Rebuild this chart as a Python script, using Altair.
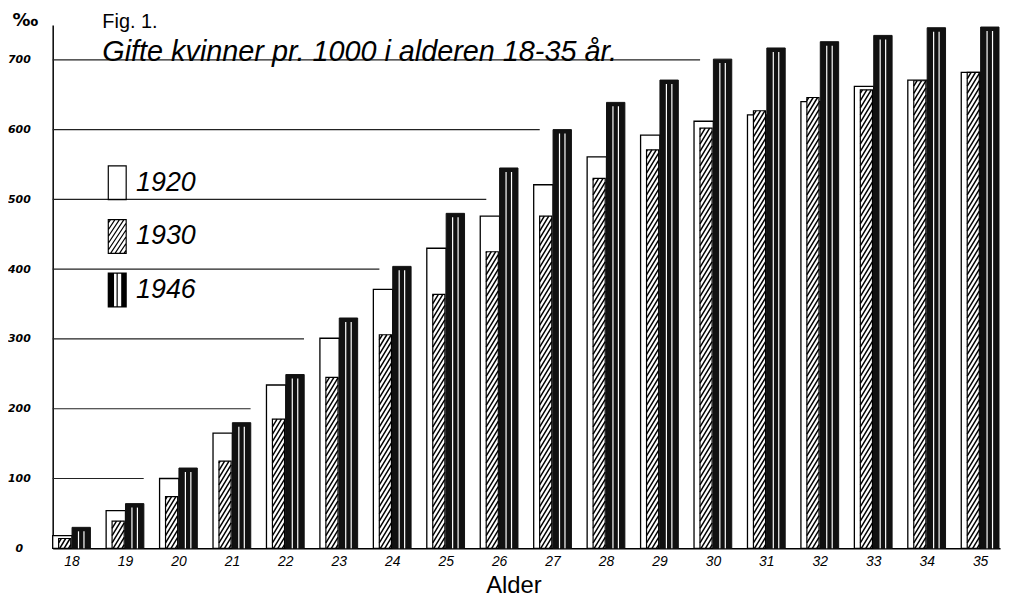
import altair as alt
import pandas as pd
import numpy as np

# ---------------- data ----------------
ages = list(range(18, 36))
years = ["1920", "1930", "1946"]
v1920 = [18, 54, 100, 165, 234, 301, 371, 430, 476, 521, 561, 592, 612, 621, 640, 662, 671, 682]
v1930 = [14, 39, 74, 125, 185, 245, 306, 364, 425, 476, 530, 571, 602, 627, 646, 657, 670, 682]
v1946 = [30, 64, 115, 180, 249, 330, 404, 480, 545, 600, 639, 671, 701, 717, 726, 735, 746, 747]
y_ticks = [0, 100, 200, 300, 400, 500, 600, 700]
fig_text = "Fig. 1."
title_text = "Gifte kvinner pr. 1000 i alderen 18-35 år."
x_title = "Alder"
y_title = "\u2030"

# ---------------- layout / style constants ----------------
HAND = "Liberation Sans, DejaVu Sans, sans-serif"
W, H = 954, 527
X0, X1 = 17.647, 35.373
K = W / (X1 - X0)           # px per age unit
Y_MAX = 750
PX = H / Y_MAX              # px per per-mille
OFF = {"1920": (-19, 0.5), "1930": (-13, -0.8), "1946": (0.5, 19)}

series = {"1920": v1920, "1930": v1930, "1946": v1946}
rows = []
for yr in years:
    for a, v in zip(ages, series[yr]):
        rows.append(dict(age=a, year=yr, v=v, zero=0,
                         x0=a + OFF[yr][0] / K, x1=a + OFF[yr][1] / K))
bars = pd.DataFrame(rows)

# hatch lines for the 1930 bars
RISE = 20 / PX
STEP = 7.3 / PX
hrows = []
for a, v in zip(ages, v1930):
    xa, xb = a + OFF["1930"][0] / K, a + OFF["1930"][1] / K
    c = -RISE + STEP / 2
    while c < v:
        t0 = max(0.0, -c / RISE)
        t1 = min(1.0, (v - c) / RISE)
        if t1 > t0:
            hrows.append(dict(x=xa + t0 * (xb - xa), x2=xa + t1 * (xb - xa),
                              y=c + RISE * t0, y2=c + RISE * t1))
        c += STEP
hatch = pd.DataFrame(hrows)

# white streaks in the 1946 bars
srows = []
for a, v in zip(ages, v1946):
    for px in (6.5, 12.0):
        srows.append(dict(x=a + (OFF["1946"][0] + px) / K, y=0, y2=v - 4 / PX))
streaks = pd.DataFrame(srows)

# hand-drawn guide lines: each stops before the first age group reaching it
mx = [max(p) for p in zip(v1920, v1930, v1946)]
grows = []
for g in y_ticks[1:]:
    first = next(a for a, m in zip(ages, mx) if m >= g)
    end = first - (0.65 if g <= 300 else 0.24)
    grows.append(dict(y=g, x=X0, x2=end))
grid = pd.DataFrame(grows)

# legend symbol paths (unit square coordinates)
SW = 0.53
rect = f"M{-SW},-1L{SW},-1L{SW},1L{-SW},1Z"
lr, ls = 1.6, 0.4
hp = rect
c = -1 + ls / 2
while c < 1 + lr:
    t0 = max(0.0, (c - 1) / lr)
    t1 = min(1.0, (c + 1) / lr)
    if t1 > t0:
        xa = -SW + 2 * SW * t0
        xb = -SW + 2 * SW * t1
        hp += f"M{xa:.3f},{c - lr * t0:.3f}L{xb:.3f},{c - lr * t1:.3f}"
    c += ls
bp = rect
for xv in np.arange(-SW + 0.03, SW - 0.02, 0.055):
    if abs(xv + 0.13) < 0.09 or abs(xv - 0.13) < 0.09:
        continue
    bp += f"M{xv:.3f},-1L{xv:.3f},1"
shapes = [rect, hp, bp]

x_scale = alt.Scale(domain=[X0, X1], nice=False, zero=False)
y_scale = alt.Scale(domain=[0, Y_MAX], nice=False, zero=False)

x_axis = alt.Axis(values=ages, format="d", title=x_title, titleFont=HAND, titleFontSize=24,
                  titleFontWeight="normal", titleColor="black", titleX=464, titleY=45,
                  titleBaseline="alphabetic", labelFont=HAND, labelFontStyle="italic",
                  labelFontSize=14, labelColor="black", labelPadding=6, labelFlush=False,
                  ticks=False, grid=False, domainColor="black", domainWidth=1.5)
y_axis = alt.Axis(values=y_ticks, title=y_title, titleAngle=0, titleX=-28, titleY=-4,
                  titleAlign="center", titleBaseline="middle", titleFont="DejaVu Sans",
                  titleFontSize=18, titleFontWeight="bold", titleColor="black",
                  labelFont="DejaVu Sans", labelFontStyle="italic", labelFontWeight="bold",
                  labelFontSize=11, labelColor="black", labelAlign="center", labelPadding=34,
                  labelFlush=False, ticks=False, grid=False, domainColor="black", domainWidth=1.5)

gridlayer = alt.Chart(grid).mark_rule(color="#222", strokeWidth=1.2).encode(
    x=alt.X("x:Q", scale=x_scale, axis=x_axis),
    x2="x2:Q",
    y=alt.Y("y:Q", scale=y_scale, axis=y_axis),
)

def rects(yr, fill, stroke, sw):
    return alt.Chart(bars).transform_filter(f"datum.year == '{yr}'").mark_rect(
        fill=fill, stroke=stroke, strokeWidth=sw).encode(
        x=alt.X("x0:Q", scale=x_scale, axis=x_axis), x2="x1:Q",
        y=alt.Y("v:Q", scale=y_scale, axis=y_axis), y2="zero:Q")

white = rects("1920", "white", "black", 1.3)
hatched = rects("1930", "white", "black", 1.2)
hatchlines = alt.Chart(hatch).mark_rule(color="black", strokeWidth=1.5).encode(
    x=alt.X("x:Q", scale=x_scale, axis=x_axis), x2="x2:Q",
    y=alt.Y("y:Q", scale=y_scale, axis=y_axis), y2="y2:Q")
black = rects("1946", "#111", "#111", 1.0)
streak = alt.Chart(streaks).mark_rule(color="white", strokeWidth=1.2).encode(
    x=alt.X("x:Q", scale=x_scale, axis=x_axis),
    y=alt.Y("y:Q", scale=y_scale, axis=y_axis), y2="y2:Q")

legend_layer = alt.Chart(pd.DataFrame({"year": years})).transform_filter("false").mark_point(
    filled=False, color="black", strokeWidth=1.2, opacity=1).encode(
    x=alt.X("age:Q", scale=x_scale, axis=x_axis),
    y=alt.Y("v:Q", scale=y_scale, axis=y_axis),
    shape=alt.Shape("year:N", scale=alt.Scale(domain=years, range=shapes),
                    legend=alt.Legend(title=None, orient="none", legendX=47, legendY=141,
                                      symbolSize=1156, symbolStrokeColor="black",
                                      symbolStrokeWidth=1.2, symbolOpacity=1,
                                      labelFont=HAND, labelFontSize=27,
                                      labelFontStyle="italic", labelColor="black",
                                      labelOffset=1, rowPadding=14, padding=0,
                                      labelLimit=200)))

chart = alt.layer(gridlayer, white, hatched, hatchlines, black, streak, legend_layer).properties(
    width=W, height=H,
    title=alt.TitleParams(text="\u00a0" + fig_text, subtitle=title_text, anchor="start",
                          frame="group", orient="top", offset=0, dx=50, dy=55,
                          font=HAND, fontSize=20, fontWeight="normal", color="black",
                          subtitleFont=HAND, subtitleFontSize=29, subtitleFontStyle="italic",
                          subtitleColor="black", subtitlePadding=6),
    autosize=alt.AutoSizeParams(type="none"),
    padding={"left": 45, "top": 15, "right": 8, "bottom": 47},
    background="white",
).configure_view(stroke=None)

chart.save("out.html", embed_options={"renderer": "svg", "actions": False})
